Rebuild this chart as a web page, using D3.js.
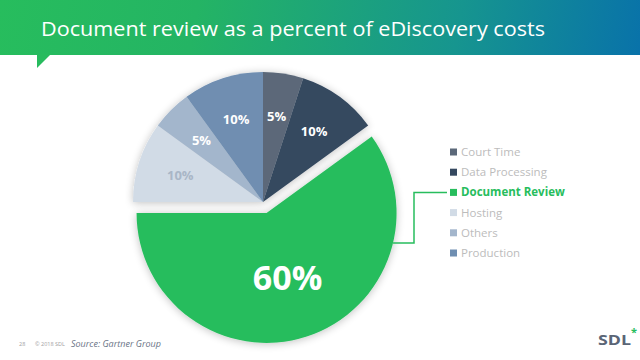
<!DOCTYPE html>
<html><head><meta charset="utf-8">
<script src="https://cdn.jsdelivr.net/npm/d3@7/dist/d3.min.js"></script>
<style>html,body{margin:0;padding:0;background:#fff;}svg{display:block;}</style>
</head><body>
<svg id="c" width="640" height="360"></svg>
<script>
const title = "Document review as a percent of eDiscovery costs";
const categories = ["Court Time", "Data Processing", "Document Review", "Hosting", "Others", "Production"];
const values = [5, 10, 60, 10, 5, 10];
const valueLabels = ["5%", "10%", "60%", "10%", "5%", "10%"];
const colors = ["#5b6879", "#34485f", "#27bd5d", "#d1dbe6", "#a3b6cc", "#6f8eb1"];
const highlight = "Document Review";
const source = "Source: Gartner Group";

const svg = d3.select("#c");
const defs = svg.append("defs");

// Header gradient
const g = defs.append("linearGradient").attr("id","hdr").attr("gradientUnits","userSpaceOnUse")
  .attr("x1",0).attr("y1",0).attr("x2",640).attr("y2",120);
g.append("stop").attr("offset","0").attr("stop-color","#27bd5d");
g.append("stop").attr("offset","0.3").attr("stop-color","#24b464");
g.append("stop").attr("offset","0.7").attr("stop-color","#16958f");
g.append("stop").attr("offset","1").attr("stop-color","#0870ab");

const f = defs.append("filter").attr("id","sh").attr("x","-20%").attr("y","-20%").attr("width","140%").attr("height","140%");
f.append("feGaussianBlur").attr("in","SourceAlpha").attr("stdDeviation",4).attr("result","b");
f.append("feOffset").attr("in","b").attr("dx",0).attr("dy",1).attr("result","o");
f.append("feComponentTransfer").attr("in","o").attr("result","o2")
  .append("feFuncA").attr("type","linear").attr("slope",0.25);
const fm = f.append("feMerge");
fm.append("feMergeNode").attr("in","o2");
fm.append("feMergeNode").attr("in","SourceGraphic");

// Header
svg.append("rect").attr("x",0).attr("y",0).attr("width",640).attr("height",55).attr("fill","url(#hdr)");
svg.append("path").attr("d","M37,54 L51,54 L37,68 Z").attr("fill","#27bb5e");
svg.append("text").attr("x",41).attr("y",36).attr("fill","#fff")
  .attr("font-family","'Open Sans', sans-serif").attr("font-size",20.5)
  .attr("textLength",504).attr("lengthAdjust","spacingAndGlyphs")
  .text(title);

// Pie
const cx = 263, cy = 202, R = 130, explode = 11.5;
const data = categories.map((c,i)=>({cat:c, value:values[i], label:valueLabels[i], color:colors[i]}));
const pie = d3.pie().sort(null).value(d=>d.value);
const arcs = pie(data);
const arc = d3.arc().innerRadius(0).outerRadius(R);
const labelArc = d3.arc().innerRadius(87).outerRadius(87);
const bigLabelArc = d3.arc().innerRadius(68).outerRadius(68);

const pg = svg.append("g").attr("transform",`translate(${cx},${cy})`);
const offs = d => {
  if (d.data.cat !== highlight) return [0,0];
  const m = (d.startAngle + d.endAngle)/2;
  return [Math.sin(m)*explode, -Math.cos(m)*explode];
};
const rest = arcs.filter(d=>d.data.cat!==highlight);
const hi = arcs.filter(d=>d.data.cat===highlight);
const restG = pg.append("g").attr("filter","url(#sh)");
restG.selectAll("path").data(rest).join("path")
  .attr("d",arc).attr("fill",d=>d.data.color);
const hiG = pg.append("g").attr("filter","url(#sh)");
hiG.selectAll("path").data(hi).join("path")
  .attr("transform",d=>`translate(${offs(d)})`)
  .attr("d",arc).attr("fill",d=>d.data.color);

pg.selectAll("text.lab").data(arcs).join("text").attr("class","lab")
  .attr("transform",d=>{
    const o = offs(d);
    const c = d.data.cat===highlight ? bigLabelArc.centroid(d) : labelArc.centroid(d);
    return `translate(${c[0]+o[0]},${c[1]+o[1]})`;
  })
  .attr("text-anchor","middle").attr("dy","0.36em")
  .attr("font-family","'Open Sans', sans-serif").attr("font-weight","bold")
  .attr("font-size",d=>d.data.cat===highlight?34:13)
  .attr("fill",d=>d.data.cat==="Hosting" ? "#a9b6c6" : "#fff")
  .text(d=>d.data.label);

// Legend
const legX = 450, legY0 = 152, legStep = 20.2;
const lg = svg.append("g");
const rows = lg.selectAll("g").data(data).join("g")
  .attr("transform",(d,i)=>`translate(${legX},${legY0+i*legStep})`);
rows.append("rect").attr("x",0).attr("y",-3.5).attr("width",7).attr("height",7).attr("fill",d=>d.color);
rows.append("text").attr("x",11).attr("y",0).attr("dy","0.35em")
  .attr("font-family","'Open Sans', sans-serif").attr("font-size",11.5)
  .attr("font-weight",d=>d.cat===highlight?"bold":"normal")
  .attr("fill",d=>d.cat===highlight?"#27bd5d":"#bcbcbc")
  .text(d=>d.cat);

// Leader line from highlighted slice to its legend entry
const hiIdx = categories.indexOf(highlight);
const h0 = hi[0], ho = offs(h0);
const ly = 243;
const lx0 = cx + ho[0] + Math.sqrt(R*R - Math.pow(ly - (cy+ho[1]),2));
const legYh = legY0 + hiIdx*legStep;
svg.append("path")
  .attr("d",`M${lx0},${ly} H414 V${legYh} H${legX-3}`)
  .attr("fill","none").attr("stroke","#27bd5d").attr("stroke-width",1.5);

// Footer
svg.append("text").attr("x",19).attr("y",346).attr("font-family","'Open Sans', sans-serif")
  .attr("font-size",5.5).attr("fill","#a0a0a0").text("28");
svg.append("text").attr("x",35).attr("y",346).attr("font-family","'Open Sans', sans-serif")
  .attr("font-size",5.5).attr("fill","#a0a0a0").text("© 2018 SDL");
svg.append("text").attr("x",71).attr("y",347).attr("font-family","'Open Sans', sans-serif")
  .attr("font-size",9).attr("font-style","italic").attr("fill","#6a7486").text(source);
svg.append("text").attr("x",598).attr("y",345).attr("font-family","'Open Sans', sans-serif")
  .attr("font-size",15).attr("font-weight","bold").attr("fill","#5a6576")
  .attr("textLength",33).attr("lengthAdjust","spacingAndGlyphs").text("SDL");
svg.append("text").attr("x",631).attr("y",336).attr("font-family","'Open Sans', sans-serif")
  .attr("font-size",11).attr("font-weight","bold").attr("fill","#27bd5d").text("*");
</script>
</body></html>
